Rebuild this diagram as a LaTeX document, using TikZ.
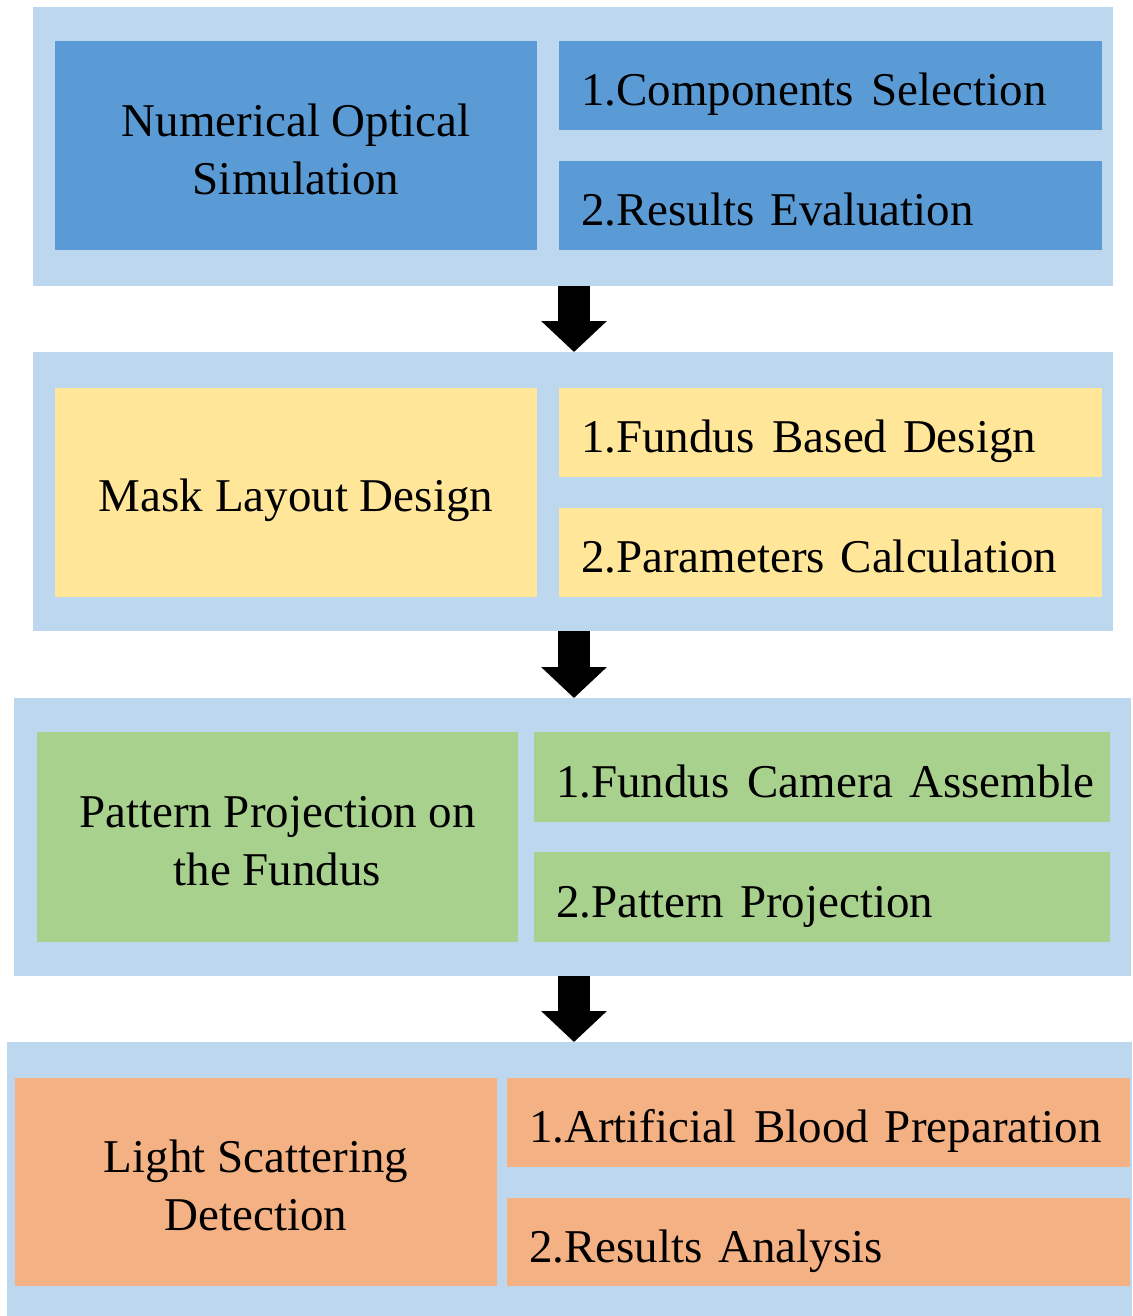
\documentclass[tikz,border=0pt]{standalone}
\usepackage{fontspec}
\setmainfont{Liberation Serif}
\usetikzlibrary{arrows.meta}
\definecolor{panelblue}{HTML}{BDD7EE}
\definecolor{stepblue}{HTML}{5B9BD5}
\definecolor{stepyellow}{HTML}{FFE699}
\definecolor{stepgreen}{HTML}{A9D18E}
\definecolor{steporange}{HTML}{F4B183}
\tikzset{
  block/.style={rectangle, anchor=north west, inner sep=0pt, outer sep=0pt, draw=none},
  panel/.style={block, fill=panelblue},
  mainbox/.style={block, align=center, font=\fontsize{47}{58}\selectfont},
  subbox/.style={block, align=left, text height=40pt, text depth=0pt,
                 font=\fontsize{47}{58}\selectfont,
                 execute at begin node={\hyphenpenalty=10000\relax\hspace*{22pt}}},
  bigarrow/.style={line width=32pt, -{Triangle[width=64pt,length=31pt]}}
}
\newcommand{\gap}{\hspace{0.38em}}
% invisible strut that lowers a two-line title slightly
\newcommand{\tpad}{\rule{0pt}{40pt}}
\begin{document}
\begin{tikzpicture}[x=1pt, y=-1pt]
\useasboundingbox (0,0) rectangle (1132,1316);
\fill[white] (0,0) rectangle (1132,1316);

% stage 1: simulation
\node[panel, minimum width=1080pt, minimum height=279pt] (p1) at (33,7) {};
\node[mainbox, fill=stepblue, minimum width=482pt, minimum height=209pt] (l1) at (55,41)
  {\tpad Numerical Optical\\Simulation};
\node[subbox, fill=stepblue, minimum height=89pt, text width=543pt] (r1a) at (559,41)
  {1.Components\gap Selection};
\node[subbox, fill=stepblue, minimum height=89pt, text width=543pt] (r1b) at (559,161)
  {2.Results Evaluation};

% stage 2: mask layout
\node[panel, minimum width=1080pt, minimum height=279pt] (p2) at (33,352) {};
\node[mainbox, fill=stepyellow, minimum width=482pt, minimum height=209pt, text depth=0pt] (l2) at (55,388)
  {\rule{0pt}{38pt}Mask Layout Design};
\node[subbox, fill=stepyellow, minimum height=89pt, text width=543pt] (r2a) at (559,388)
  {1.Fundus\gap Based Design};
\node[subbox, fill=stepyellow, minimum height=89pt, text width=543pt] (r2b) at (559,508)
  {2.Parameters Calculation};

% stage 3: projection
\node[panel, minimum width=1117pt, minimum height=278pt] (p3) at (14,698) {};
\node[mainbox, fill=stepgreen, minimum width=481pt, minimum height=210pt] (l3) at (37,732)
  {\tpad Pattern Projection on\\the Fundus};
\node[subbox, fill=stepgreen, minimum height=90pt, text width=576pt] (r3a) at (534,732)
  {1.Fundus\gap Camera Assemble};
\node[subbox, fill=stepgreen, minimum height=90pt, text width=576pt] (r3b) at (534,852)
  {2.Pattern Projection};

% stage 4: detection
\node[panel, minimum width=1125pt, minimum height=274pt] (p4) at (7,1042) {};
\node[mainbox, fill=steporange, minimum width=482pt, minimum height=208pt] (l4) at (15,1078)
  {\tpad Light Scattering\\Detection};
\node[subbox, fill=steporange, minimum height=89pt, text width=623pt] (r4a) at (507,1078)
  {1.Artificial\gap Blood Preparation};
\node[subbox, fill=steporange, minimum height=88pt, text width=623pt] (r4b) at (507,1198)
  {2.Results Analysis};

% flow arrows between stages
\coordinate (ax) at (574,0);
\draw[bigarrow] (p1.south -| ax) -- (p2.north -| ax);
\draw[bigarrow] (p2.south -| ax) -- (p3.north -| ax);
\draw[bigarrow] (p3.south -| ax) -- (p4.north -| ax);
\end{tikzpicture}
\end{document}
